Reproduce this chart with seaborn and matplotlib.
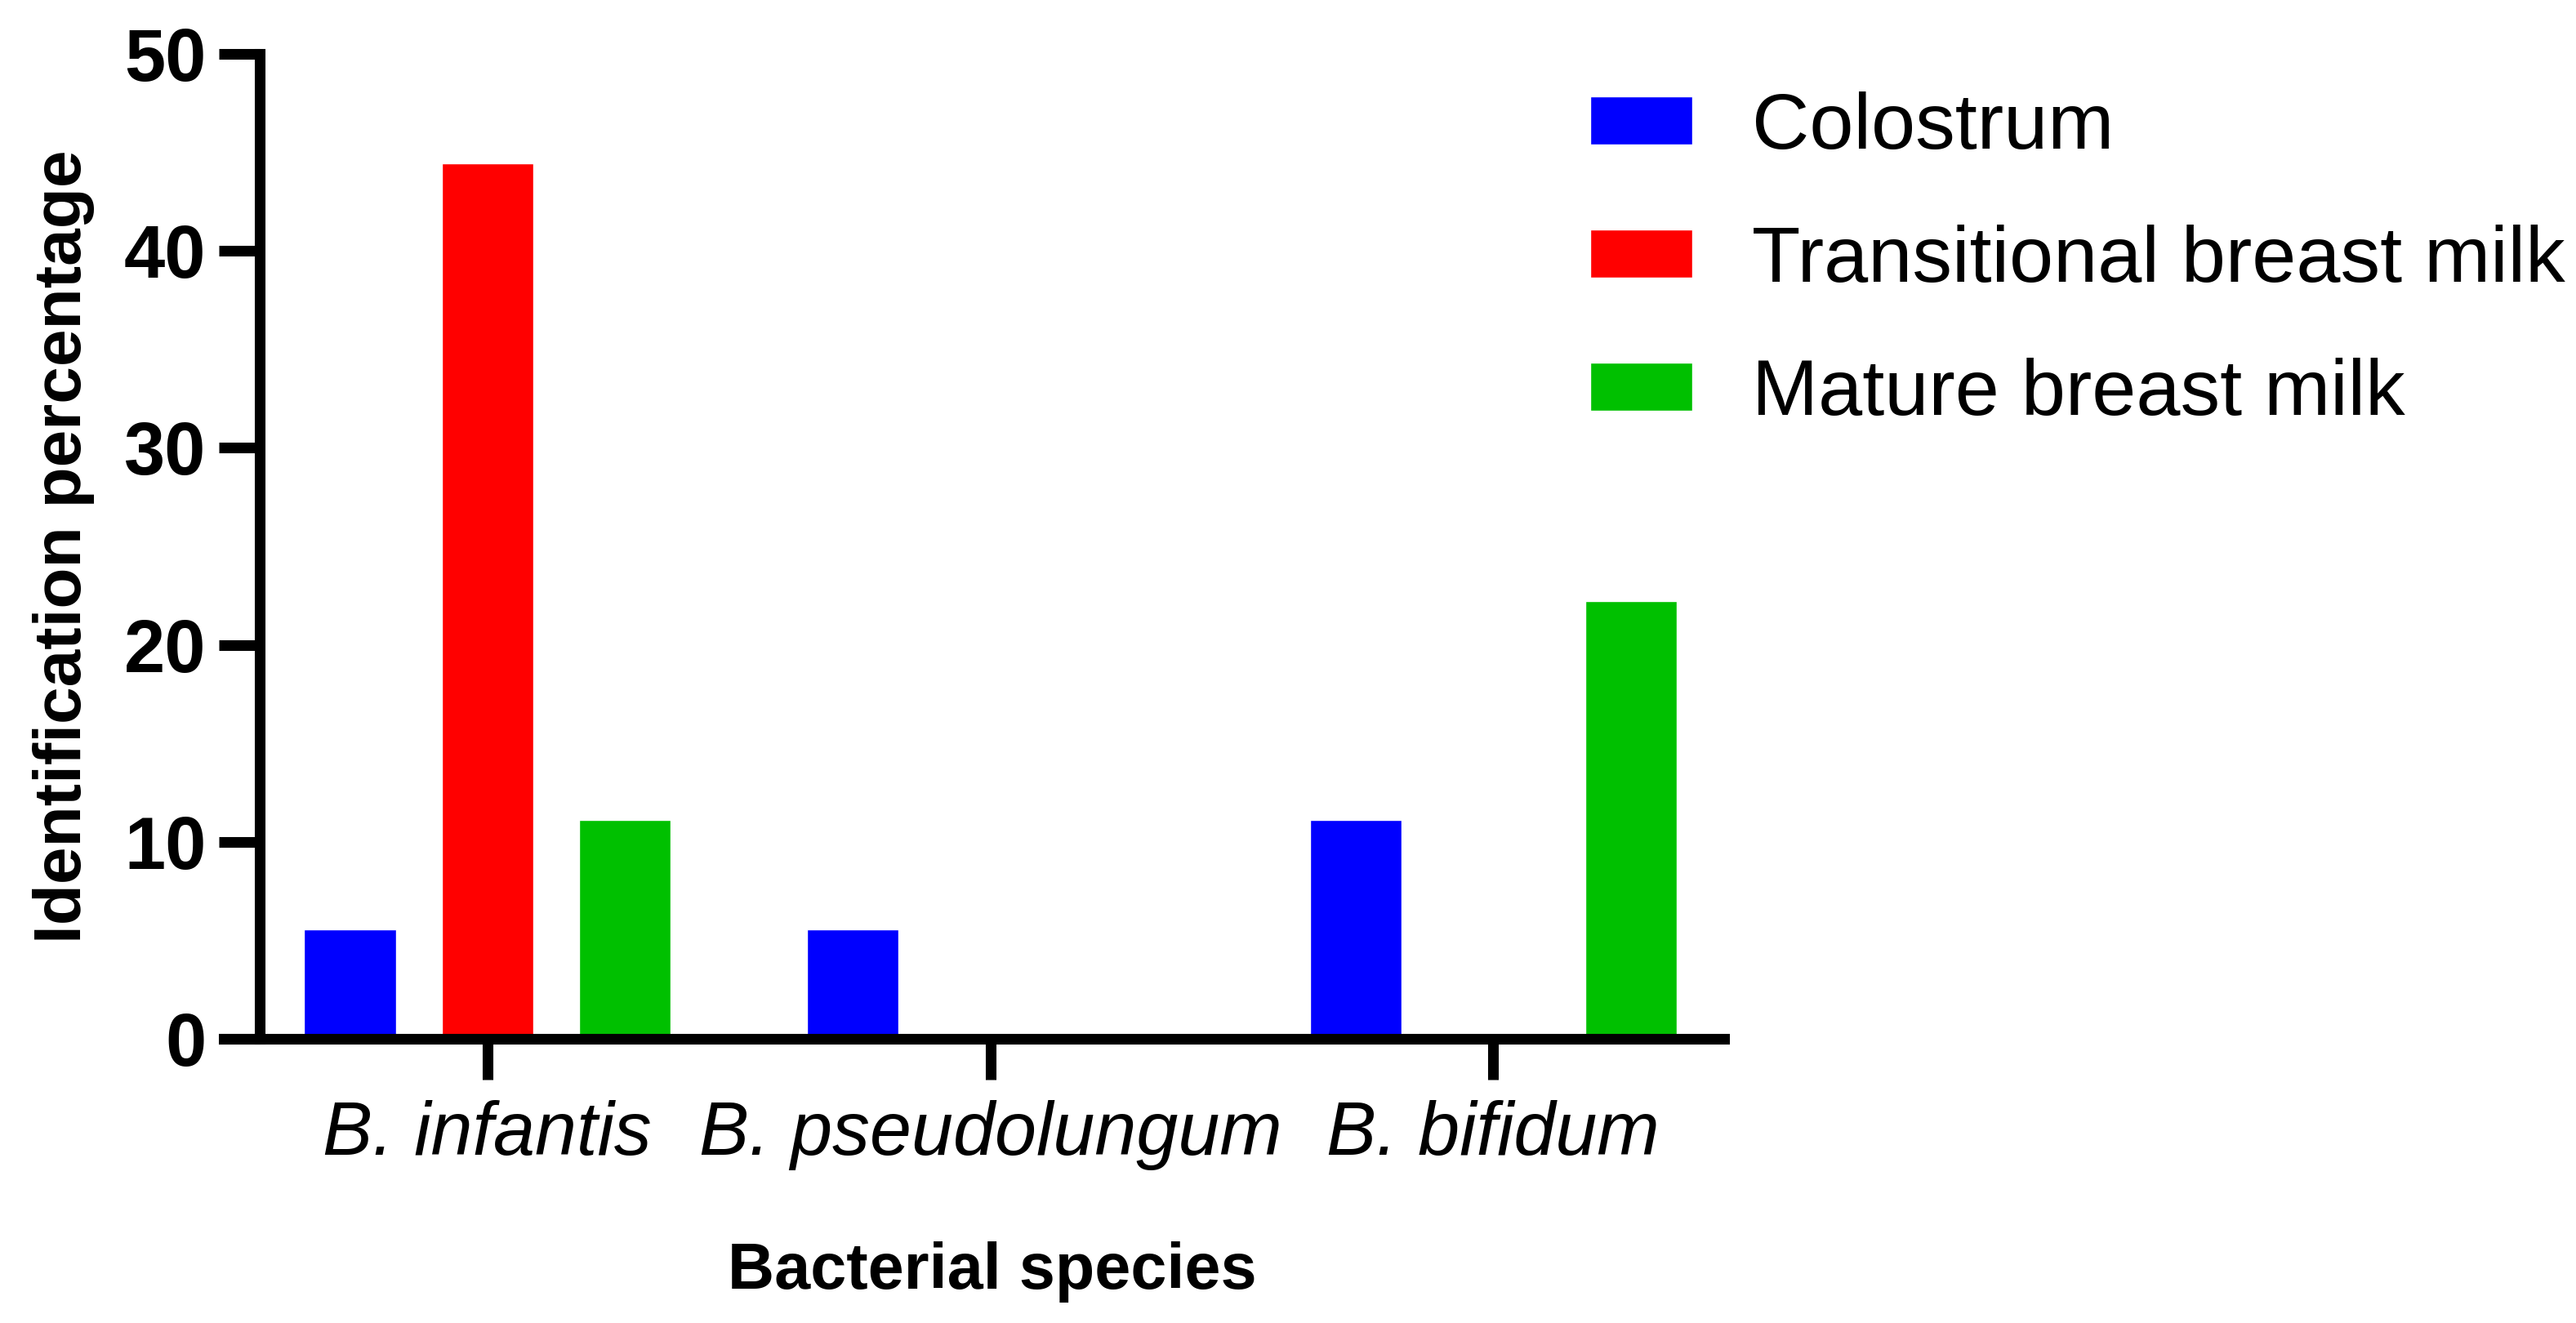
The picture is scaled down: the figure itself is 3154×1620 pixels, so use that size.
import pandas as pd
import matplotlib
matplotlib.use("Agg")
import matplotlib.pyplot as plt
import seaborn as sns

# Data (identification percentage)
species = ["B. infantis", "B. pseudolungum", "B. bifidum"]
stages = ["Colostrum", "Transitional breast milk", "Mature breast milk"]
colostrum = [5.56, 5.56, 11.11]
transitional = [44.44, 0.0, 0.0]
mature = [11.11, 0.0, 22.22]

stage_colors = {"Colostrum": "#0000FF",
                "Transitional breast milk": "#FF0000",
                "Mature breast milk": "#00C000"}


def build_frame():
    rows = []
    for stage, values in zip(stages, [colostrum, transitional, mature]):
        for sp, v in zip(species, values):
            rows.append({"Species": sp, "Stage": stage, "Percent": v})
    return pd.DataFrame(rows)


def main():
    sns.set_theme(style="white")
    plt.rcParams["font.family"] = ["Liberation Sans", "DejaVu Sans"]
    # plain black text like the GraphPad original
    for key in ["text.color", "axes.labelcolor", "xtick.color", "ytick.color"]:
        plt.rcParams[key] = "black"

    df = build_frame()

    fig = plt.figure(figsize=(31.54, 16.2), dpi=100)
    ax = fig.add_axes([0.0869, 0.2148, 0.5824, 0.7445])

    sns.barplot(data=df, x="Species", y="Percent", hue="Stage",
                order=species, hue_order=stages, palette=stage_colors,
                width=0.82, gap=0.333, saturation=1, ax=ax)

    ax.set_xlim(-0.524, 2.459)
    ax.set_ylim(0, 50)
    ax.set_yticks([0, 10, 20, 30, 40, 50])

    # offset y spine, thick black lines
    for side in ["top", "right"]:
        ax.spines[side].set_visible(False)
    lw = 9.4
    ax.spines["left"].set_position(("data", -0.453))
    ax.spines["left"].set_bounds(0, 50)
    for side in ["left", "bottom"]:
        ax.spines[side].set_linewidth(lw)
        ax.spines[side].set_color("black")

    ax.tick_params(axis="both", direction="out", length=36, width=lw, color="black")
    ax.tick_params(axis="y", left=True, pad=11, labelsize=65)
    ax.tick_params(axis="x", bottom=True, pad=18, labelsize=66)
    for lab in ax.get_yticklabels():
        lab.set_fontweight("bold")
    for lab in ax.get_xticklabels():
        lab.set_fontstyle("italic")

    ax.set_xlabel("Bacterial species", fontsize=57, fontweight="bold")
    ax.set_ylabel("Identification percentage", fontsize=59, fontweight="bold")
    ax.xaxis.set_label_coords(0.512, -0.206)
    ax.yaxis.set_label_coords(-0.086, 0.5)

    # Legend outside to the right, no frame
    handles, labels = ax.get_legend_handles_labels()
    ax.legend(handles, labels, loc="upper left", bbox_to_anchor=(0.6172, 0.931),
              bbox_transform=fig.transFigure, frameon=False, fontsize=70,
              handlelength=1.29, handleheight=0.56, handletextpad=0.755,
              labelspacing=0.75, borderpad=0, borderaxespad=0)

    fig.savefig("out.png", dpi=100)
    plt.close(fig)


if __name__ == "__main__":
    main()
